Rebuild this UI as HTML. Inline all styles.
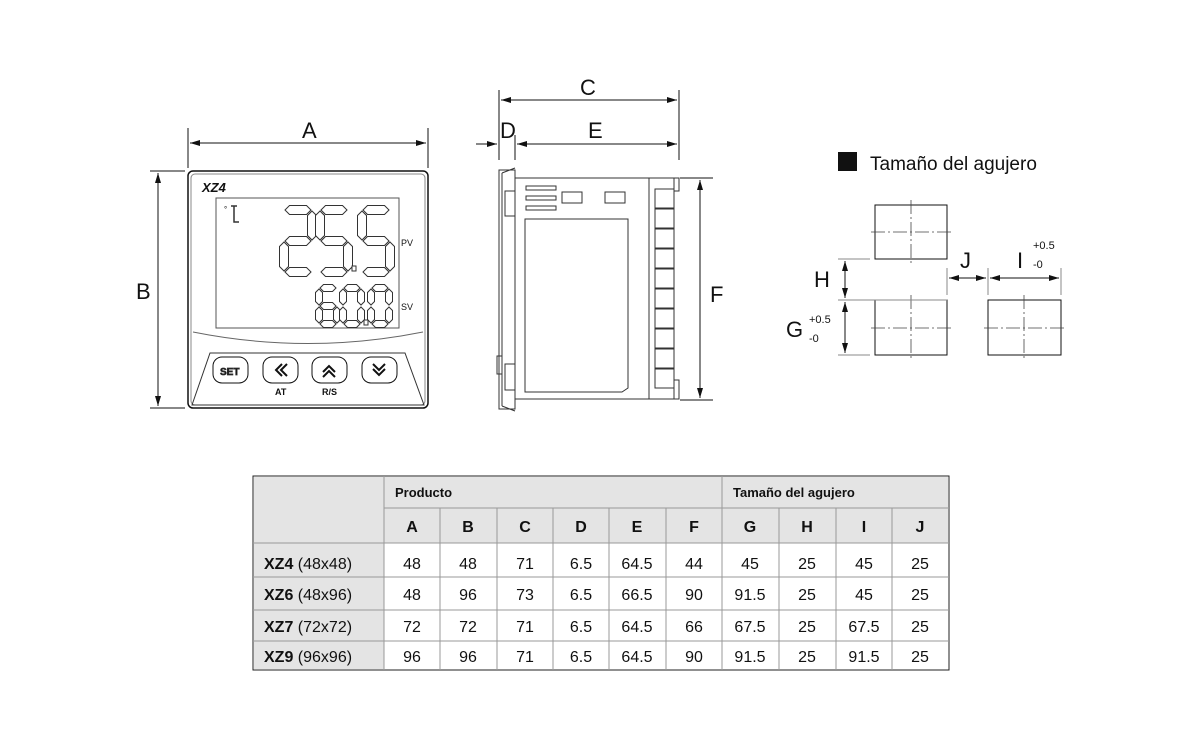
<!DOCTYPE html>
<html><head><meta charset="utf-8"><style>
body{margin:0;background:#fff;width:1200px;height:746px;overflow:hidden;font-family:"Liberation Sans",sans-serif}
svg{position:absolute;left:0;top:0}
text{font-family:"Liberation Sans",sans-serif;fill:#111}
</style></head><body>
<svg width="1200" height="746" viewBox="0 0 1200 746" id="s">
<defs>
<marker id="ar" markerWidth="10" markerHeight="6" refX="10" refY="3" orient="auto-start-reverse" markerUnits="userSpaceOnUse"><path d="M0,0 L10,3 L0,6z" fill="#111"/></marker>
</defs>
<g stroke="#111" fill="none" stroke-width="1">
<line x1="188" y1="128" x2="188" y2="168"/><line x1="428" y1="128" x2="428" y2="168"/>
<line x1="190" y1="143" x2="426" y2="143" marker-start="url(#ar)" marker-end="url(#ar)"/>
<line x1="150" y1="171" x2="185" y2="171"/><line x1="150" y1="408" x2="185" y2="408"/>
<line x1="158" y1="173" x2="158" y2="406" marker-start="url(#ar)" marker-end="url(#ar)"/>
<rect x="188" y="171" width="240" height="237" rx="5" stroke-width="1.5"/>
<rect x="191" y="174" width="234" height="231" rx="4" stroke="#888"/>
<rect x="216" y="198" width="183" height="130" stroke="#555"/>
<path d="M193,332 Q308,355 423,332" stroke="#666"/>
<path d="M210,353 L405,353 L424,405 L192,405 Z" stroke="#333"/>
<rect x="213" y="357" width="35" height="26" rx="9"/>
<rect x="263" y="357" width="35" height="26" rx="9"/>
<rect x="312" y="357" width="35" height="26" rx="9"/>
<rect x="362" y="357" width="35" height="26" rx="9"/>
<path d="M282,364 l-6,6 l6,6 M287,364 l-6,6 l6,6" stroke-width="2"/>
<path d="M323,372 l6,-6 l6,6 M323,377 l6,-6 l6,6" stroke-width="2"/>
<path d="M373,364 l6,6 l6,-6 M373,369 l6,6 l6,-6" stroke-width="2"/>
<line x1="499" y1="90" x2="499" y2="160"/><line x1="679" y1="90" x2="679" y2="160"/><line x1="515" y1="135" x2="515" y2="160"/>
<line x1="501" y1="100" x2="677" y2="100" marker-start="url(#ar)" marker-end="url(#ar)"/>
<line x1="517" y1="144" x2="677" y2="144" marker-start="url(#ar)" marker-end="url(#ar)"/>
<line x1="476" y1="144" x2="497" y2="144" marker-end="url(#ar)"/>
<line x1="680" y1="178" x2="713" y2="178"/><line x1="680" y1="400" x2="713" y2="400"/>
<line x1="700" y1="180" x2="700" y2="398" marker-start="url(#ar)" marker-end="url(#ar)"/>
<g stroke="#333">
<path d="M499,170 L515,170 L515,409 L499,409 Z"/>
<path d="M502,173 L515,168 M502,406 L515,411 M502,173 L502,406"/>
<rect x="505" y="191" width="10" height="25"/><rect x="505" y="364" width="10" height="26"/><rect x="497" y="356" width="5" height="18"/>
<path d="M515,178 L679,178 M515,399 L679,399 M649,178 L649,399"/>
<rect x="526" y="186" width="30" height="4"/><rect x="526" y="196" width="30" height="4"/><rect x="526" y="206" width="30" height="4"/>
<rect x="562" y="192" width="20" height="11"/><rect x="605" y="192" width="20" height="11"/>
<path d="M525,219 L628,219 L628,388 L622,392 L525,392 Z"/>
<rect x="655" y="189" width="19" height="19"/><rect x="655" y="209" width="19" height="19"/><rect x="655" y="229" width="19" height="19"/><rect x="655" y="249" width="19" height="19"/><rect x="655" y="269" width="19" height="19"/><rect x="655" y="289" width="19" height="19"/><rect x="655" y="309" width="19" height="19"/><rect x="655" y="329" width="19" height="19"/><rect x="655" y="349" width="19" height="19"/><rect x="655" y="369" width="19" height="19"/>
<rect x="674" y="178" width="5" height="13"/><rect x="674" y="380" width="5" height="19"/>
</g>
<rect x="875" y="205" width="72" height="54"/><rect x="875" y="300" width="72" height="55"/><rect x="988" y="300" width="73" height="55"/>
<g stroke="#444" stroke-width="0.8" stroke-dasharray="14,3,2,3">
<line x1="871" y1="232" x2="951" y2="232"/><line x1="911" y1="200" x2="911" y2="264"/>
<line x1="871" y1="328" x2="951" y2="328"/><line x1="911" y1="295" x2="911" y2="360"/>
<line x1="984" y1="328" x2="1065" y2="328"/><line x1="1024" y1="295" x2="1024" y2="360"/>
</g>
<line x1="838" y1="259" x2="870" y2="259" stroke="#888"/><line x1="838" y1="300" x2="947" y2="300" stroke="#888"/><line x1="838" y1="355" x2="870" y2="355" stroke="#888"/>
<line x1="845" y1="261" x2="845" y2="298" marker-start="url(#ar)" marker-end="url(#ar)"/>
<line x1="845" y1="302" x2="845" y2="353" marker-start="url(#ar)" marker-end="url(#ar)"/>
<line x1="947" y1="268" x2="947" y2="295" stroke="#888"/><line x1="988" y1="268" x2="988" y2="295" stroke="#888"/><line x1="1061" y1="268" x2="1061" y2="295" stroke="#888"/>
<line x1="949" y1="278" x2="986" y2="278" marker-start="url(#ar)" marker-end="url(#ar)"/>
<line x1="990" y1="278" x2="1059" y2="278" marker-start="url(#ar)" marker-end="url(#ar)"/>
</g>
<g id="digits" stroke="#333" stroke-width="1" fill="#fff"></g>
<text x="302" y="138" font-size="22">A</text>
<text x="136" y="299" font-size="22">B</text>
<text x="580" y="95" font-size="22">C</text>
<text x="500" y="138" font-size="22">D</text>
<text x="588" y="138" font-size="22">E</text>
<text x="710" y="302" font-size="22">F</text>
<text x="202" y="192" font-size="13" font-weight="bold" font-style="italic">XZ4</text>
<text x="224" y="212" font-size="8">°</text>
<path d="M231,206 h6 M234,206 v16 h5" stroke="#333" stroke-width="1.5" fill="none"/>
<text x="401" y="246" font-size="9">PV</text>
<text x="401" y="310" font-size="9">SV</text>
<text x="220" y="375" font-size="10" font-weight="bold" fill="#fff" stroke="#333" stroke-width="0.7">SET</text>
<text x="275" y="395" font-size="9" font-weight="bold">AT</text>
<text x="322" y="395" font-size="9" font-weight="bold">R/S</text>
<rect x="838" y="152" width="19" height="19" fill="#111"/>
<text x="870" y="170" font-size="19">Tamaño del agujero</text>
<text x="814" y="287" font-size="22">H</text>
<text x="786" y="337" font-size="22">G</text>
<text x="809" y="323" font-size="11">+0.5</text>
<text x="809" y="342" font-size="11">-0</text>
<text x="960" y="268" font-size="22">J</text>
<text x="1017" y="268" font-size="22">I</text>
<text x="1033" y="249" font-size="11">+0.5</text>
<text x="1033" y="268" font-size="11">-0</text>
<g font-size="16">
<rect x="253" y="476" width="696" height="194" fill="#fff" stroke="#222"/>
<rect x="254" y="477" width="130" height="192" fill="#e4e4e4"/>
<rect x="384" y="477" width="564" height="66" fill="#e4e4e4"/>
<g stroke="#999" stroke-width="1">
<line x1="384" y1="476" x2="384" y2="670"/><line x1="722" y1="476" x2="722" y2="670"/>
<line x1="384" y1="508" x2="949" y2="508"/>
<line x1="253" y1="543" x2="949" y2="543"/><line x1="253" y1="577" x2="949" y2="577"/><line x1="253" y1="610" x2="949" y2="610"/><line x1="253" y1="641" x2="949" y2="641"/>
<line x1="440" y1="508" x2="440" y2="670"/><line x1="497" y1="508" x2="497" y2="670"/><line x1="553" y1="508" x2="553" y2="670"/><line x1="609" y1="508" x2="609" y2="670"/><line x1="666" y1="508" x2="666" y2="670"/><line x1="779" y1="508" x2="779" y2="670"/><line x1="836" y1="508" x2="836" y2="670"/><line x1="892" y1="508" x2="892" y2="670"/>
</g>
<text x="395" y="497" font-size="13" font-weight="bold">Producto</text>
<text x="733" y="497" font-size="13" font-weight="bold">Tamaño del agujero</text>
<g text-anchor="middle" font-weight="bold" font-size="16">
<text x="412" y="532">A</text><text x="468" y="532">B</text><text x="525" y="532">C</text><text x="581" y="532">D</text><text x="637" y="532">E</text><text x="694" y="532">F</text><text x="750" y="532">G</text><text x="807" y="532">H</text><text x="864" y="532">I</text><text x="920" y="532">J</text>
</g>
<g font-size="16">
<text x="264" y="569"><tspan font-weight="bold">XZ4</tspan>  (48x48)</text>
<text x="264" y="600"><tspan font-weight="bold">XZ6</tspan>  (48x96)</text>
<text x="264" y="632"><tspan font-weight="bold">XZ7</tspan>  (72x72)</text>
<text x="264" y="662"><tspan font-weight="bold">XZ9</tspan>  (96x96)</text>
</g>
<g id="tv" text-anchor="middle" font-size="16"></g>
</g>
</svg>
<script>
var rows=[["48","48","71","6.5","64.5","44","45","25","45","25"],["48","96","73","6.5","66.5","90","91.5","25","45","25"],["72","72","71","6.5","64.5","66","67.5","25","67.5","25"],["96","96","71","6.5","64.5","90","91.5","25","91.5","25"]];
var cx=[412,468,525,581,637,694,750,807,864,920],ry=[569,600,632,662],ns="http://www.w3.org/2000/svg";
var tv=document.getElementById("tv");
rows.forEach(function(r,i){r.forEach(function(v,j){var t=document.createElementNS(ns,"text");t.setAttribute("x",cx[j]);t.setAttribute("y",ry[i]);t.textContent=v;tv.appendChild(t);});});
var g=document.getElementById("digits");
function poly(p){var e=document.createElementNS(ns,"polygon");e.setAttribute("points",p.map(function(q){return q.join(",")}).join(" "));g.appendChild(e);}
function H(x,y,w,t){poly([[x,y],[x+t/2,y-t/2],[x+w-t/2,y-t/2],[x+w,y],[x+w-t/2,y+t/2],[x+t/2,y+t/2]]);}
function V(x,y,h,t){poly([[x,y],[x+t/2,y+t/2],[x+t/2,y+h-t/2],[x,y+h],[x-t/2,y+h-t/2],[x-t/2,y+t/2]]);}
var S={"2":"abged","5":"afgcd","6":"afgedc","0":"abcdef"};
function dig(ch,x,y,w,h,t){var s=S[ch],m=h/2;
if(s.indexOf("a")>=0)H(x+1,y,w-2,t);if(s.indexOf("g")>=0)H(x+1,y+m,w-2,t);if(s.indexOf("d")>=0)H(x+1,y+h,w-2,t);
if(s.indexOf("f")>=0)V(x,y+1,m-2,t);if(s.indexOf("b")>=0)V(x+w,y+1,m-2,t);if(s.indexOf("e")>=0)V(x,y+m+1,m-2,t);if(s.indexOf("c")>=0)V(x+w,y+m+1,m-2,t);}
dig("2",284,210,28,62,9);dig("5",320,210,28,62,9);dig("5",362,210,28,62,9);
var d=document.createElementNS(ns,"rect");d.setAttribute("x",352);d.setAttribute("y",266);d.setAttribute("width",4);d.setAttribute("height",5);g.appendChild(d);
dig("6",319,288,18,36,7);dig("0",343,288,18,36,7);dig("0",371,288,18,36,7);
var d2=document.createElementNS(ns,"rect");d2.setAttribute("x",364);d2.setAttribute("y",320);d2.setAttribute("width",4);d2.setAttribute("height",5);g.appendChild(d2);
</script>
</body></html>
